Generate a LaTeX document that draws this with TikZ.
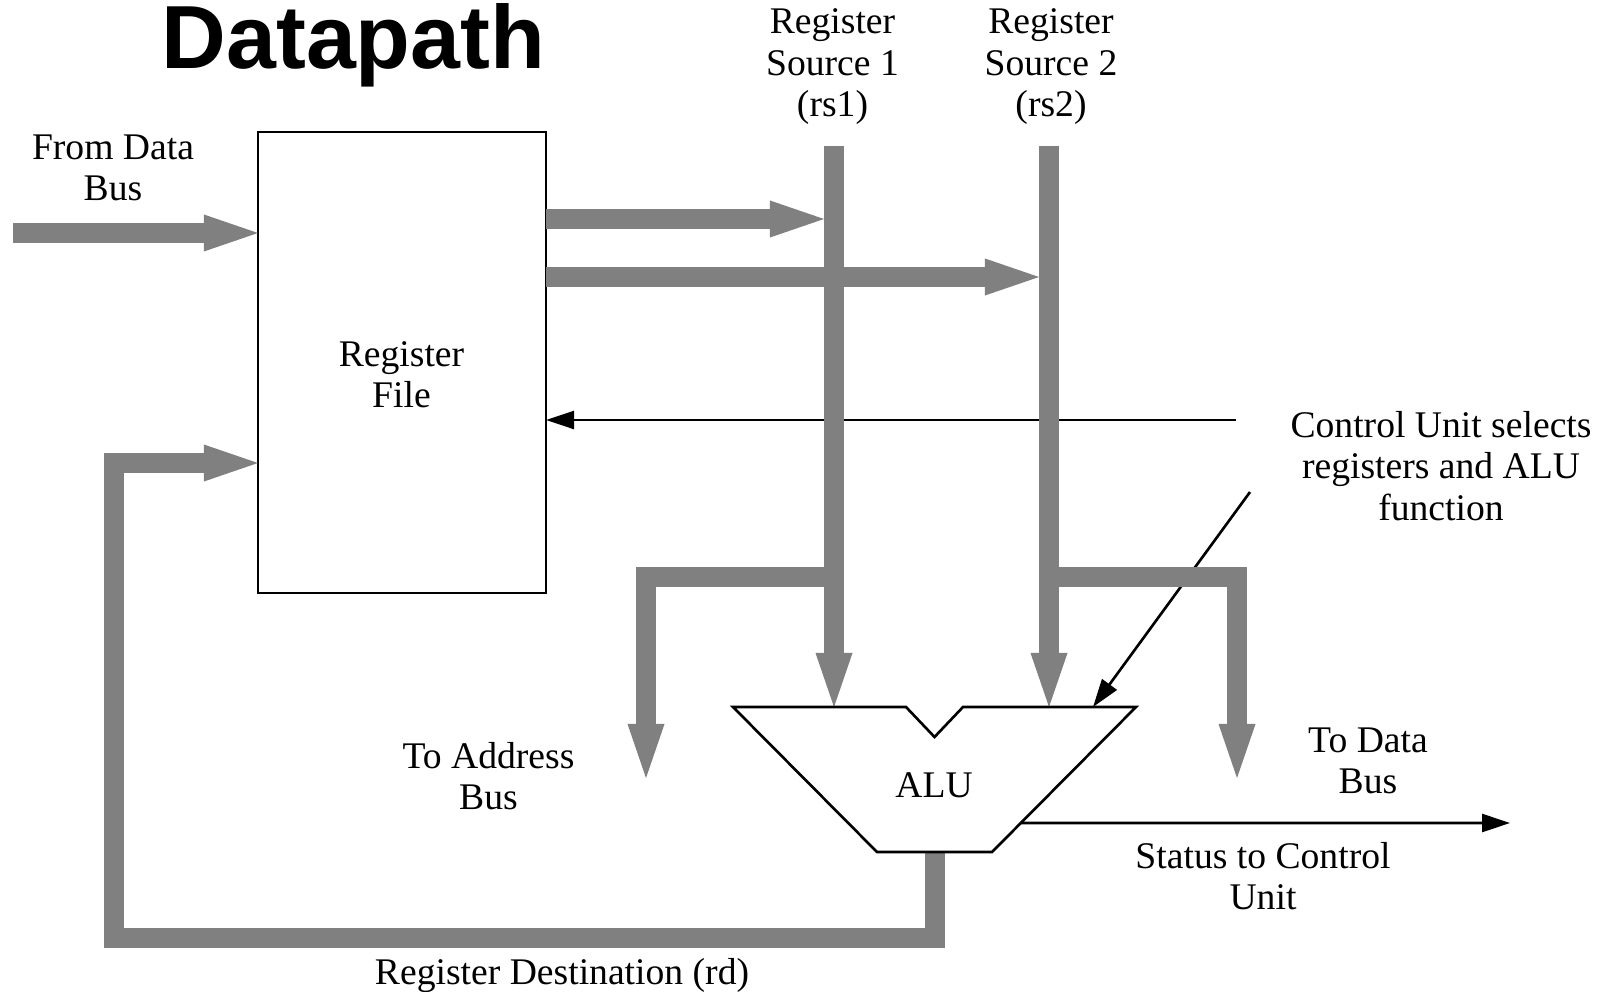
\documentclass[tikz,border=0pt]{standalone}
\usepackage{fontspec}
\setmainfont{Liberation Serif}
\newfontfamily\titlefont{Liberation Sans}
\usetikzlibrary{positioning,calc,arrows.meta}
\definecolor{busgray}{gray}{0.5}
\tikzset{>=stealth}
\tikzset{
  bus/.style={draw=busgray,line width=0.2cm,line join=miter},
  busarrow/.style={bus,-{Triangle[length=0.54cm,width=0.37cm,line width=0pt]}},
  ctl/.style={draw,line width=0.75pt,-{Triangle[length=0.28cm,width=0.18cm]}},
  lbl/.style={align=center,inner sep=0pt,font=\fontsize{10.7}{11.7}\selectfont},
}

\begin{document}
\begin{tikzpicture}[x=0.01cm,y=-0.01cm]
\useasboundingbox (0,0) rectangle (1616,991);
\coordinate (din) at (13,233);
\coordinate (r1hit) at (824,219);
\coordinate (r2hit) at (1039,277);
\coordinate (r1top) at (834,146);
\coordinate (r2top) at (1049,146);
\coordinate (r1tap) at (834,577);
\coordinate (r2tap) at (1049,577);
\coordinate (adr) at (646,778);
\coordinate (dat) at (1237,778);
\coordinate (rdturn) at (114,463);
\coordinate (ctlsrc) at (1236,420);
\coordinate (selsrc) at (1250,492);
\coordinate (stout) at (1510,823);
% ALU outline
\coordinate (aA) at (733,707);
\coordinate (aB) at (906,707);
\coordinate (aC) at (934.5,737);
\coordinate (aD) at (963,707);
\coordinate (aE) at (1136,707);
\coordinate (aF) at (992,852);
\coordinate (aG) at (877,852);
\coordinate (aSel) at (1093,707);
\coordinate (aOut) at (934.5,852);

\node[draw,line width=0.75pt,inner sep=0pt,outer sep=0pt,minimum width=2.88cm,minimum height=4.61cm] (rf) at (402,362.5) {};

\draw[ctl] (ctlsrc) -- (rf.east |- ctlsrc);
\draw[ctl] (selsrc) -- (aSel);
\draw[ctl] ($(aE)!0.8!(aF)$) -- (stout);

\draw[busarrow] (din) -- (rf.west |- din);
\draw[busarrow] (rf.east |- r1hit) -- (r1hit);
\draw[busarrow] (rf.east |- r2hit) -- (r2hit);
\draw[busarrow] (r1top) -- (r1top |- aA);
\draw[busarrow] (r2top) -- (r2top |- aA);
\draw[busarrow] (r1tap) -- (adr |- r1tap) -- (adr);
\draw[busarrow] (r2tap) -- (dat |- r2tap) -- (dat);
\draw[busarrow] (aOut) -- (aOut |- 0,937.5) -- (rdturn |- 0,937.5) -- (rdturn) -- (rf.west |- rdturn);

\draw[line width=0.75pt,fill=white,line join=miter] (aA) -- (aB) -- (aC) -- (aD) -- (aE) -- (aF) -- (aG) -- cycle;

\node[anchor=base,font=\titlefont\bfseries\fontsize{25.5}{30}\selectfont,inner sep=0pt] (title) at (353.5,69) {Datapath};
\node[lbl] (fromlbl) at (113,168) {From Data\\Bus};
\node[lbl] (rflbl) at (401.5,374.7) {Register\\File};
\node[lbl] (rs1lbl) at (832.5,66.6) {Register\\Source 1\\(rs1)};
\node[lbl] (rs2lbl) at (1051,66.6) {Register\\Source 2\\(rs2)};
\node[lbl] (addrlbl) at (488.5,775.7) {To Address\\Bus};
\node[lbl,anchor=base] (alu) at (934,797) {ALU};
\node[lbl] (datalbl) at (1368,761) {To Data\\Bus};
\node[lbl] (statlbl) at (1263,875.7) {Status to Control\\Unit};
\node[lbl] (ctllbl) at (1441,466) {Control Unit selects\\registers and ALU\\function};
\node[lbl,anchor=base] (rdlbl) at (562,984) {Register Destination (rd)};
\end{tikzpicture}
\end{document}
